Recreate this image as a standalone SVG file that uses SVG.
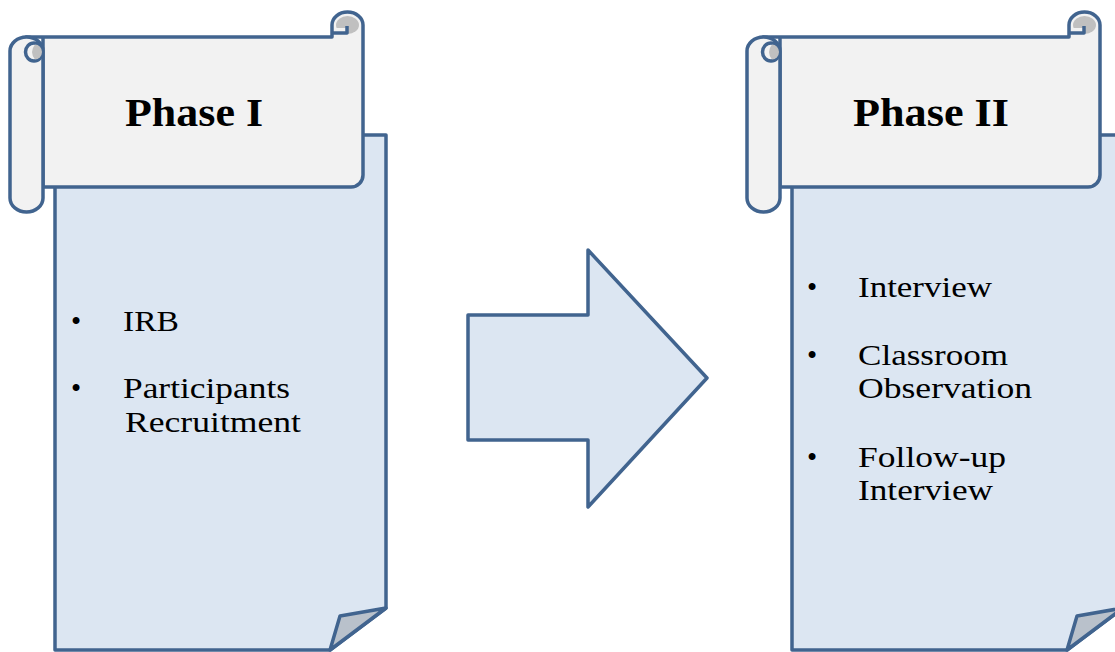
<svg xmlns="http://www.w3.org/2000/svg" width="1115" height="652" viewBox="0 0 1115 652">
<defs>
<style>
.ln{stroke:#41648f;stroke-width:3.5;stroke-linejoin:round}
.page{fill:#dce6f2}
.ban{fill:#f2f2f2}
.gray{fill:#c0c0c0}
.fold{fill:#b9c1cb}
.title{font-family:"Liberation Serif","Times New Roman",serif;font-weight:bold;font-size:39px;fill:#000}
.body{font-family:"Liberation Serif","Times New Roman",serif;font-size:29px;fill:#000}
</style>
<g id="scrollShape">
<path class="ln page" d="M55,135 L386,135 L386,608 L330,650 L55,650 Z"/>
<path class="ln fold" d="M386,608 L340,616 L330,650 Z"/>
<path class="ln ban" d="M26,37 L332,37 L332,25 A15.5,13 0 0 1 363,25 L363,175 A12,12 0 0 1 351,187 L43,187 L43,37 Z"/>
<ellipse class="gray" cx="347.5" cy="25" rx="11.5" ry="9"/>
<rect class="ban" x="334" y="28" width="13" height="6"/>
<path class="ln" fill="none" d="M333,33 L347,33 L347,26"/>
<rect class="ln ban" x="10" y="37" width="33" height="175" rx="16.5" ry="14"/>
<ellipse class="ln ban" cx="34" cy="52" rx="8.5" ry="9"/>
<path class="gray" d="M35,44.5 A7,7.5 0 0 1 35,59.5 Q29,52 35,44.5 Z"/>
</g>
</defs>
<g id="phase1">
<use href="#scrollShape"/>
<text class="title" x="125" y="126" textLength="138" lengthAdjust="spacingAndGlyphs">Phase I</text>
<text class="body" x="71" y="331">•</text>
<text class="body" x="123" y="331" textLength="56" lengthAdjust="spacingAndGlyphs">IRB</text>
<text class="body" x="71" y="398">•</text>
<text class="body" x="123" y="398" textLength="167" lengthAdjust="spacingAndGlyphs">Participants</text>
<text class="body" x="125" y="432" textLength="176" lengthAdjust="spacingAndGlyphs">Recruitment</text>
</g>
<g id="connectors">
<path class="ln page" d="M468,315 L588,315 L588,250 L707,378 L588,507 L588,440 L468,440 Z"/>
</g>
<g id="phase2">
<use href="#scrollShape" transform="translate(737,0)"/>
<text class="title" x="853" y="126" textLength="156" lengthAdjust="spacingAndGlyphs">Phase II</text>
<text class="body" x="807" y="297">•</text>
<text class="body" x="858" y="297" textLength="134" lengthAdjust="spacingAndGlyphs">Interview</text>
<text class="body" x="807" y="365">•</text>
<text class="body" x="858" y="365" textLength="150" lengthAdjust="spacingAndGlyphs">Classroom</text>
<text class="body" x="858" y="398" textLength="174" lengthAdjust="spacingAndGlyphs">Observation</text>
<text class="body" x="807" y="467">•</text>
<text class="body" x="858" y="467" textLength="148" lengthAdjust="spacingAndGlyphs">Follow-up</text>
<text class="body" x="858" y="500" textLength="135" lengthAdjust="spacingAndGlyphs">Interview</text>
</g>
</svg>
